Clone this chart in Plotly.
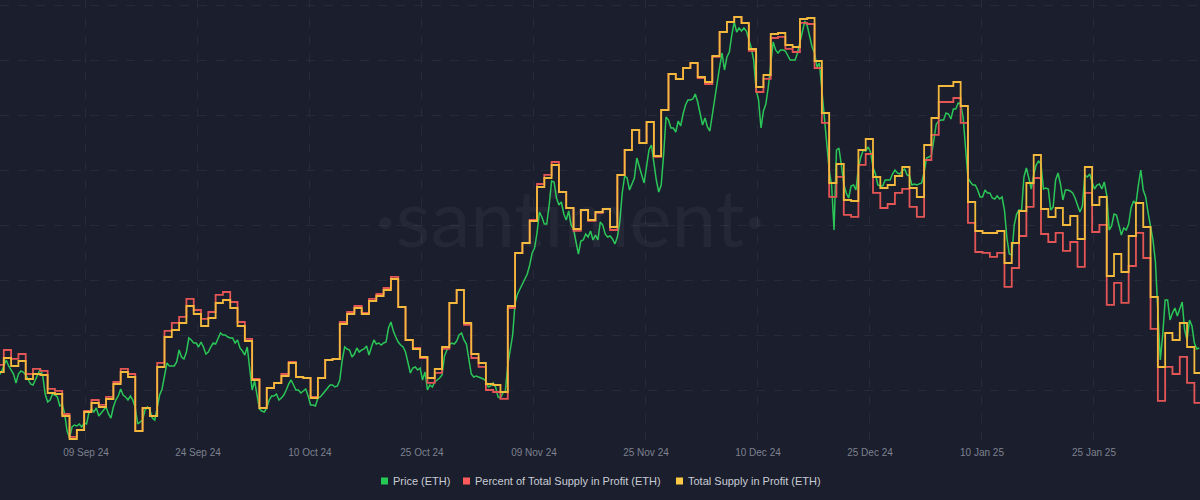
import pandas as pd
import plotly.graph_objects as go

# ---------------- data ----------------
series_start = "2024-08-28"

# ETH price, one reading every 8 hours (USD)
price_usd = [
    2410, 2425, 2440, 2470, 2500, 2470, 2450, 2430, 2385, 2430, 2445, 2440, 2425, 2405, 2380,
    2375, 2405, 2435, 2455, 2420, 2330, 2290, 2300, 2330, 2325, 2315, 2270, 2280, 2230, 2145,
    2110, 2165, 2175, 2170, 2180, 2165, 2185, 2180, 2240, 2255, 2240, 2260, 2220, 2235, 2250,
    2265, 2230, 2210, 2265, 2300, 2320, 2355, 2325, 2315, 2300, 2320, 2300, 2260, 2180, 2190,
    2200, 2250, 2265, 2250, 2210, 2200, 2270, 2325, 2355, 2415, 2485, 2470, 2470, 2470, 2490,
    2550, 2515, 2505, 2540, 2610, 2600, 2585, 2585, 2565, 2590, 2565, 2530, 2540, 2565, 2585,
    2580, 2610, 2635, 2625, 2625, 2615, 2610, 2610, 2585, 2600, 2560, 2545, 2525, 2565, 2440,
    2350, 2395, 2325, 2255, 2245, 2240, 2260, 2300, 2320, 2320, 2330, 2300, 2310, 2325, 2350,
    2380, 2400, 2375, 2350, 2350, 2335, 2345, 2355, 2320, 2275, 2275, 2270, 2310, 2315, 2330,
    2345, 2360, 2375, 2375, 2365, 2370, 2400, 2500, 2565, 2555, 2550, 2515, 2530, 2560, 2540,
    2550, 2555, 2570, 2525, 2565, 2600, 2580, 2585, 2575, 2585, 2590, 2660, 2690, 2645, 2615,
    2590, 2575, 2565, 2540, 2490, 2435, 2460, 2465, 2450, 2460, 2400, 2440, 2350, 2375, 2365,
    2390, 2400, 2410, 2425, 2520, 2550, 2575, 2585, 2580, 2595, 2625, 2635, 2600, 2580, 2500,
    2430, 2415, 2420, 2415, 2410, 2405, 2395, 2365, 2370, 2385, 2365, 2315, 2310, 2335, 2345,
    2475, 2550, 2625, 2785, 2830, 2855, 2880, 2905, 2930, 2975, 3035, 3060, 3135, 3240, 3215,
    3180, 3180, 3275, 3395, 3390, 3310, 3275, 3290, 3230, 3200, 3245, 3175, 3155, 3085, 3030,
    3095, 3100, 3130, 3115, 3145, 3100, 3125, 3100, 3190, 3175, 3130, 3115, 3120, 3105, 3080,
    3115, 3190, 3335, 3420, 3410, 3350, 3385, 3410, 3510, 3460, 3425, 3385, 3475, 3550, 3575,
    3475, 3400, 3340, 3375, 3525, 3715, 3700, 3660, 3660, 3640, 3695, 3670, 3730, 3775, 3800,
    3800, 3805, 3830, 3790, 3735, 3675, 3710, 3665, 3645, 3730, 3805, 3900, 3965, 4035, 3950,
    4015, 4040, 4125, 4190, 4140, 4160, 4145, 4160, 4145, 4105, 4060, 4000, 3850, 3800, 3660,
    3745, 3780, 3865, 3980, 4090, 4050, 4035, 4050, 4050, 4045, 4020, 4000, 4000, 4000, 4035,
    4085, 4145, 4195, 4170, 4120, 4065, 4035, 3965, 3985, 3850, 3750, 3600, 3450, 3375, 3150,
    3550, 3560, 3475, 3380, 3335, 3310, 3370, 3375, 3350, 3460, 3515, 3550, 3545, 3565, 3540,
    3465, 3430, 3375, 3370, 3370, 3400, 3400, 3400, 3430, 3450, 3435, 3430, 3445, 3455, 3425,
    3420, 3375, 3380, 3375, 3380, 3385, 3440, 3510, 3515, 3525, 3600, 3680, 3695, 3700, 3700,
    3735, 3730, 3705, 3755, 3755, 3785, 3780, 3715, 3570, 3410, 3390, 3375, 3375, 3350, 3315,
    3315, 3350, 3335, 3335, 3310, 3305, 3320, 3305, 3315, 3250, 3110, 3030, 3025, 3175, 3230,
    3250, 3245, 3415, 3460, 3410, 3355, 3425, 3475, 3495, 3480, 3355, 3360, 3355, 3250, 3265,
    3400, 3435, 3380, 3300, 3350, 3350, 3345, 3335, 3310, 3275, 3240, 3270, 3425, 3415, 3430,
    3390, 3355, 3375, 3380, 3355, 3390, 3325, 3150, 3170, 3230, 3225, 3175, 3125, 3160, 3150,
    3180, 3260, 3295, 3280, 3375, 3450, 3350, 3315, 3235, 3165, 3100, 2990, 2700, 2500, 2625,
    2800, 2800, 2700, 2735, 2760, 2720, 2755, 2790, 2650, 2600, 2700, 2670, 2585, 2555, 2560,
]

# Percent of total supply in profit, daily (%)
pct_supply_in_profit = [
    52.38, 54.25, 53.13, 53.75, 51.25, 51.88, 51.63, 49.38, 49.13, 46.25,
    43.38, 44.25, 46.63, 48.00, 47.38, 48.38, 50.25, 51.88, 51.25, 44.13,
    47.00, 46.00, 52.63, 56.63, 57.63, 58.38, 60.63, 59.25, 58.13, 59.00,
    61.13, 61.50, 60.25, 57.75, 55.63, 50.63, 47.00, 49.50, 50.13, 51.25,
    52.75, 50.88, 50.75, 48.38, 50.75, 53.00, 53.13, 57.75, 59.00, 59.75,
    58.88, 60.63, 61.25, 62.00, 63.38, 59.63, 55.50, 54.50, 53.25, 50.13,
    51.38, 54.38, 60.13, 61.75, 57.38, 53.25, 52.13, 49.25, 49.00, 48.13,
    59.50, 66.38, 67.63, 70.50, 75.00, 76.13, 77.75, 74.00, 72.00, 69.13,
    71.75, 70.38, 71.38, 71.88, 69.25, 76.13, 79.25, 81.75, 80.13, 82.75,
    78.38, 84.25, 88.75, 88.13, 89.50, 90.13, 88.25, 87.50, 90.88, 94.00,
    95.25, 95.88, 95.13, 91.63, 86.50, 88.13, 93.25, 93.38, 91.88, 91.50,
    95.13, 95.00, 89.50, 82.63, 73.38, 75.88, 71.13, 70.88, 77.38, 78.75,
    73.88, 72.00, 72.50, 73.88, 74.38, 72.13, 70.88, 78.00, 81.13, 85.25,
    85.25, 85.75, 82.63, 70.13, 66.50, 66.38, 65.88, 66.38, 62.13, 64.50,
    68.50, 72.13, 75.75, 68.75, 67.75, 68.88, 66.63, 67.75, 64.63, 73.88,
    69.00, 69.88, 59.88, 62.63, 60.13, 64.75, 68.88, 65.75, 56.88, 47.88,
    52.13, 51.25, 53.38, 50.13, 47.63,
]

# Total supply in profit, daily (million ETH)
total_supply_in_profit = [
    61.80, 63.90, 62.70, 63.45, 60.75, 61.50, 61.35, 58.65, 58.50, 55.20,
    51.75, 53.10, 55.80, 57.15, 56.55, 57.75, 60.00, 61.80, 61.05, 52.95,
    56.40, 55.20, 62.55, 67.05, 68.10, 69.15, 71.70, 70.50, 68.70, 69.90,
    72.15, 72.60, 71.40, 68.70, 66.45, 60.60, 56.40, 59.40, 60.15, 61.20,
    63.15, 61.05, 60.90, 57.90, 60.90, 63.60, 63.75, 69.00, 70.50, 71.40,
    70.50, 72.45, 73.20, 74.10, 75.75, 71.55, 66.60, 65.25, 64.05, 60.90,
    62.25, 65.55, 72.15, 74.10, 69.15, 64.50, 63.15, 60.00, 59.85, 58.80,
    71.70, 79.65, 81.15, 84.45, 89.55, 90.90, 92.85, 88.80, 86.40, 83.25,
    86.10, 84.60, 85.80, 86.25, 83.55, 91.35, 95.10, 98.10, 96.15, 99.30,
    94.20, 101.10, 106.50, 105.75, 107.40, 108.15, 106.05, 105.30, 109.20, 112.80,
    114.30, 115.05, 114.15, 110.25, 104.55, 106.35, 112.50, 112.65, 110.85, 110.55,
    114.75, 114.90, 108.45, 100.65, 90.15, 93.00, 87.60, 87.45, 95.10, 96.75,
    91.05, 89.40, 89.85, 91.20, 92.55, 89.40, 88.05, 95.85, 99.90, 104.70,
    104.70, 105.30, 101.70, 87.30, 82.95, 82.65, 82.65, 82.95, 78.15, 81.15,
    85.95, 90.15, 94.35, 86.25, 85.05, 86.40, 83.85, 85.20, 81.75, 92.55,
    86.85, 88.05, 76.20, 79.50, 76.80, 82.20, 87.15, 83.55, 73.05, 62.55,
    67.65, 66.60, 69.15, 65.55, 61.65,
]

tick_labels = ["09 Sep 24", "24 Sep 24", "10 Oct 24", "25 Oct 24", "09 Nov 24",
               "25 Nov 24", "10 Dec 24", "25 Dec 24", "10 Jan 25", "25 Jan 25"]

series_names = ["Price (ETH)", "Percent of Total Supply in Profit (ETH)",
                "Total Supply in Profit (ETH)"]

# ---------------- styling ----------------
BG = "#1b1e2c"
GRID = "#262a3a"
SWATCH = ["#26c953", "#ff5b5b", "#ffcb47"]
LINE_GREEN, LINE_RED, LINE_YELLOW = "#2bc658", "#e45656", "#f2b93c"
W, H, B = 1200, 500, 55
PLOT_H = H - B

t0 = pd.Timestamp(series_start)
price_dates = pd.date_range(t0, periods=len(price_usd), freq="8h")
day_dates = list(pd.date_range(t0, periods=len(pct_supply_in_profit), freq="D"))
step_dates = day_dates + [day_dates[-1] + pd.Timedelta(days=1)]

fig = go.Figure()

fig.add_trace(go.Scatter(
    x=step_dates, y=pct_supply_in_profit + [pct_supply_in_profit[-1]],
    mode="lines", line=dict(color=LINE_RED, width=1.8, shape="hv"),
    yaxis="y2", name=series_names[1], showlegend=False, hoverinfo="skip"))
fig.add_trace(go.Scatter(
    x=step_dates, y=total_supply_in_profit + [total_supply_in_profit[-1]],
    mode="lines", line=dict(color=LINE_YELLOW, width=1.8, shape="hv"),
    yaxis="y3", name=series_names[2], showlegend=False, hoverinfo="skip"))
fig.add_trace(go.Scatter(
    x=price_dates, y=price_usd, mode="lines",
    line=dict(color=LINE_GREEN, width=1.5), yaxis="y",
    name=series_names[0], showlegend=False, hoverinfo="skip"))

# ---------------- legend (square swatch + label), below the plot ----------------
legend_left_px = [381, 463, 676]   # swatch left edges in the 1200px canvas
legend_cy_px = 481
shapes, annotations = [], []
for left, name, col in zip(legend_left_px, series_names, SWATCH):
    y0 = (PLOT_H - (legend_cy_px - 3.5)) / PLOT_H
    y1 = (PLOT_H - (legend_cy_px + 3.5)) / PLOT_H
    shapes.append(dict(type="rect", xref="paper", yref="paper",
                       x0=left / W, x1=(left + 7) / W, y0=y0, y1=y1,
                       fillcolor=col, line=dict(width=0)))
    annotations.append(dict(text=name, xref="paper", yref="paper",
                            x=(left + 10) / W, y=(PLOT_H - legend_cy_px) / PLOT_H,
                            xanchor="left", yanchor="middle", showarrow=False,
                            font=dict(size=11, color="#c9ccd6")))

annotations.append(dict(text="·santiment·", x=0.475, y=0.515, xref="paper",
                        yref="paper", showarrow=False,
                        font=dict(size=80, color="rgba(255,255,255,0.045)",
                                  family="Lato, sans-serif", weight=400)))

# axis ranges / ticks
x_start = t0 + pd.Timedelta(hours=11.5)
x_end = t0 + pd.Timedelta(days=164.77)
tick0 = pd.Timestamp("2024-09-09 06:00")
tick_step = pd.Timedelta(days=15.334)
tick_vals = [tick0 + i * tick_step for i in range(len(tick_labels))]

fig.update_layout(
    width=W, height=H,
    margin=dict(l=0, r=0, t=0, b=B),
    paper_bgcolor=BG, plot_bgcolor=BG,
    font=dict(family="Liberation Sans, Arial, sans-serif"),
    showlegend=False,
    xaxis=dict(type="date", range=[x_start, x_end], tickvals=tick_vals,
               ticktext=tick_labels, showgrid=True, gridcolor=GRID,
               griddash="dash", gridwidth=1, showline=False, zeroline=False,
               ticks="", tickfont=dict(size=10, color="#7d8190")),
    yaxis=dict(range=[2075, 4300], tick0=2075, dtick=275, showgrid=True,
               gridcolor=GRID, griddash="dash", showticklabels=False,
               zeroline=False, showline=False, ticks=""),
    yaxis2=dict(range=[42.375, 98], overlaying="y", visible=False),
    yaxis3=dict(range=[50.85, 117.6], overlaying="y", visible=False),
    shapes=shapes,
    annotations=annotations,
)

fig.write_html(
    "out.html",
    config={"displayModeBar": False},
    post_script="document.body.style.margin='0';"
                "document.body.style.background='" + BG + "';"
                "document.body.style.overflow='hidden';",
)
